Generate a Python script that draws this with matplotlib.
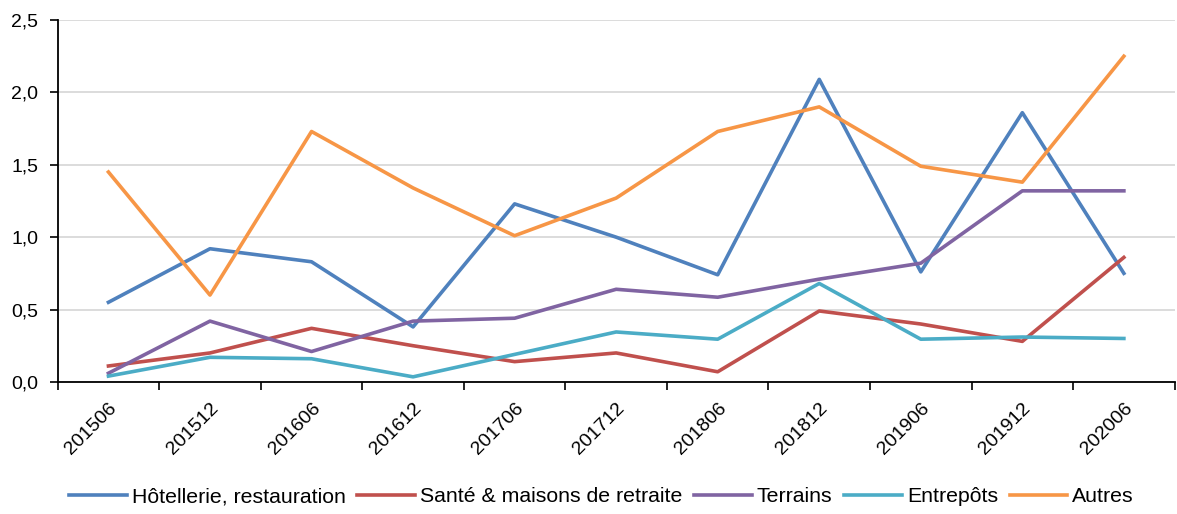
import matplotlib as mpl
import matplotlib.pyplot as plt
import numpy as np
from matplotlib.ticker import FuncFormatter

mpl.rcParams.update(
    {
        "font.family": ["Liberation Sans", "DejaVu Sans"],
        "font.size": 14,
        "axes.spines.right": False,
        "axes.spines.top": False,
    }
)

periods = ["201506", "201512", "201606", "201612", "201706", "201712",
           "201806", "201812", "201906", "201912", "202006"]

hotellerie = [0.55, 0.92, 0.83, 0.38, 1.23, 1.00, 0.74, 2.09, 0.76, 1.86, 0.75]
sante = [0.11, 0.20, 0.37, 0.25, 0.14, 0.20, 0.07, 0.49, 0.40, 0.28, 0.86]
terrains = [0.06, 0.42, 0.21, 0.42, 0.44, 0.64, 0.585, 0.71, 0.82, 1.32, 1.32]
entrepots = [0.04, 0.17, 0.16, 0.035, 0.19, 0.345, 0.295, 0.68, 0.295, 0.31, 0.30]
autres = [1.45, 0.60, 1.73, 1.34, 1.01, 1.27, 1.73, 1.90, 1.49, 1.38, 2.25]

series = [
    ("Hôtellerie, restauration", hotellerie, "#4F81BD"),
    ("Santé & maisons de retraite", sante, "#C0504D"),
    ("Terrains", terrains, "#8064A2"),
    ("Entrepôts", entrepots, "#4BACC6"),
    ("Autres", autres, "#F79646"),
]

fig = plt.figure(figsize=(11.77, 5.14), dpi=100)
ax = fig.add_axes([0.049, 0.257, 0.949, 0.704])

x = np.arange(len(periods))
for name, vals, col in series:
    ax.plot(x, vals, color=col, lw=2.6, label=name)

ax.set_xlim(-0.5, len(periods) - 0.5)
ax.set_ylim(0, 2.5)
ax.set_yticks(np.arange(0, 2.51, 0.5))
ax.yaxis.set_major_formatter(FuncFormatter(lambda v, p: f"{v:.1f}".replace(".", ",")))
ax.grid(axis="y", color="#D9D9D9", lw=1.3)
ax.set_axisbelow(True)

ax.set_xticks(x)
ax.set_xticklabels(periods, rotation=45, ha="right", rotation_mode="anchor")
ax.set_xticks(np.arange(-0.5, len(periods)), minor=True)
ax.tick_params(axis="x", which="major", length=0, pad=13)
ax.tick_params(axis="x", which="minor", length=6, width=1.2, direction="out")
ax.tick_params(axis="y", length=6, width=1.2, direction="out", pad=8)
for s in ("left", "bottom"):
    ax.spines[s].set_linewidth(1.3)
    ax.spines[s].set_color("black")

ax.legend(loc="center", bbox_to_anchor=(0.487, -0.318), ncol=5, frameon=False,
          handlelength=2.7, handletextpad=0.25, columnspacing=0.55, fontsize=15.3)

fig.savefig("out.png", dpi=100)
